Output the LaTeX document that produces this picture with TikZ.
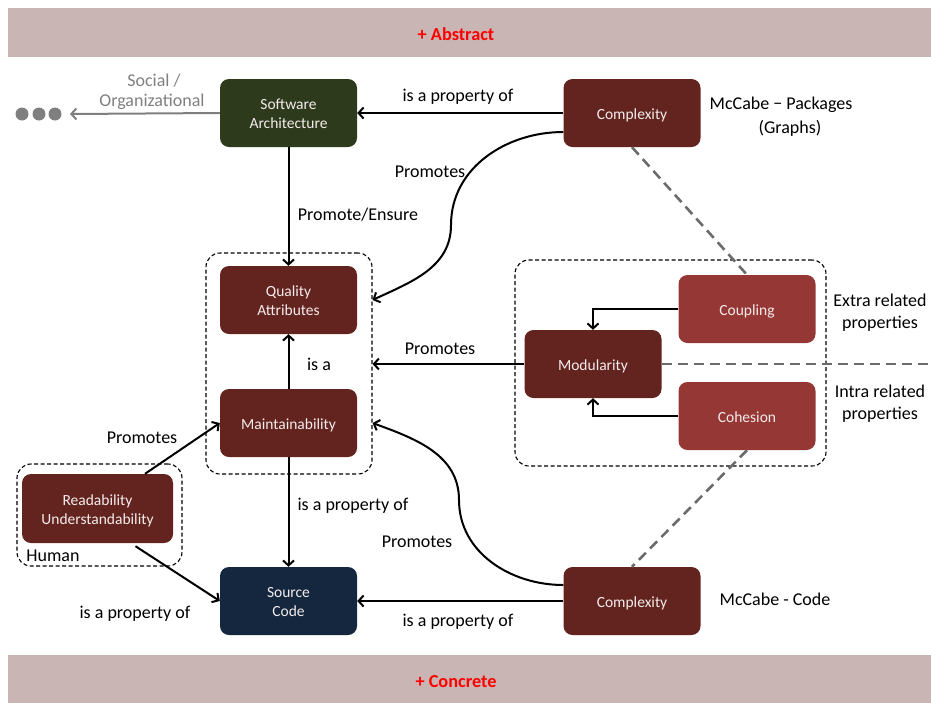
\documentclass[tikz,border=0pt]{standalone}
\usepackage{fontspec}
\setmainfont{Carlito}
\usetikzlibrary{arrows.meta}

\definecolor{bandfill}{HTML}{C9B5B3}
\definecolor{darkred}{HTML}{63241F}
\definecolor{midred}{HTML}{953735}
\definecolor{olive}{HTML}{2E3A1C}
\definecolor{navy}{HTML}{14273F}
\definecolor{boxtext}{HTML}{F4ECEC}
\definecolor{softgray}{HTML}{7F7F7F}
\definecolor{simgray}{HTML}{6B6B6B}

% box caption: centred lines, ink set a little low inside its box
\newcommand{\boxcap}[1]{\raisebox{-2.5pt}[\height][\depth]{\begin{tabular}{@{}c@{}}#1\end{tabular}}}

\begin{document}
\begin{tikzpicture}[x=1pt,y=-1pt,
  box/.style={rounded corners=9pt, minimum width=137pt, minimum height=68pt,
    text=boxtext, font=\fontsize{15.5}{19}\selectfont, align=center, inner sep=0pt},
  lbl/.style={font=\fontsize{18}{22}\selectfont, inner sep=0pt, align=center},
  link/.style={line width=2pt, -{Straight Barb[length=5pt,width=11pt,line width=2pt]}},
  grp/.style={draw=black, line width=1.1pt, rounded corners=14pt, dash pattern=on 4pt off 2.5pt,
    inner sep=0pt},
  simline/.style={draw=simgray, line width=2.6pt, dash pattern=on 10pt off 6pt},
  band/.style={fill=bandfill, inner sep=0pt, minimum width=923pt, minimum height=49pt},
  bandtext/.style={text=red, font=\fontsize{18.3}{22}\selectfont\bfseries, inner sep=0pt}
]
\useasboundingbox (0,0) rectangle (931,702);

% level bands
\node[band] (abstract) at (469.5,32.5) {};
\node[band, minimum height=48pt] (concrete) at (469.5,679) {};
\node[bandtext] (abstracttxt) at (456,34.5) {+ Abstract};
\node[bandtext] (concretetxt) at (456,682) {+ Concrete};

% group frames
\node[grp, minimum width=166pt, minimum height=221pt] (qgrp) at (289,363.5) {};
\node[grp, minimum width=165pt, minimum height=102pt] (hgrp) at (99.5,515) {};
\node[grp, minimum width=311pt, minimum height=206pt] (mgrp) at (670.5,363) {};

% main boxes
\node[box, fill=olive] (sa) at (288.5,113) {\boxcap{Software\\Architecture}};
\node[box, fill=darkred] (cxt) at (632,113) {\boxcap{Complexity}};
\node[box, fill=darkred] (qa) at (288.5,300) {\boxcap{Quality\\Attributes}};
\node[box, fill=darkred] (mt) at (288.5,423) {\boxcap{Maintainability}};
\node[box, fill=navy] (sc) at (288.5,601) {\boxcap{Source\\Code}};
\node[box, fill=darkred] (cxb) at (632,601) {\boxcap{Complexity}};
\node[box, fill=darkred, minimum width=151pt, minimum height=69pt] (rd) at (97.5,508.5) {\boxcap{Readability\\Understandability}};
\node[box, fill=darkred] (md) at (593,364) {\boxcap{Modularity}};
\node[box, fill=midred] (cp) at (747,309) {\boxcap{Coupling}};
\node[box, fill=midred] (ch) at (747,416) {\boxcap{Cohesion}};

% social / organizational continuation
\foreach \i/\x in {1/22,2/39,3/55}
  \node[circle, fill=softgray, minimum size=13pt, inner sep=0pt] (dot\i) at (\x,114) {};
\coordinate (social) at (70,114);
\draw[link, draw=softgray] (sa.west) -- (social);
\node[lbl, text=softgray] (soctxt1) at (154,81) {Social /};
\node[lbl, text=softgray] (soctxt2) at (152,102) {Organizational};

% similarity lines
\coordinate (rightedge) at (931,364);
\draw[simline] (cxt.south) -- (cp.north);
\draw[simline] (ch.south) -- (cxb.north);
\draw[simline] (md.east) -- (rightedge);

% connectors
\draw[link] (cxt.west) -- (sa.east);
\draw[link] ([yshift=-19pt]cxt.west) to[out=180,in=90] (451,225) to[out=-90,in=25] (qgrp.east |- qa.center);
\draw[link] (sa.south) -- (qa.north);
\draw[link] (mt.north) -- (qa.south);
\draw[link] (md.west) -- (qgrp.east |- md.west);
\draw[link] (cp.west) -| (md.north);
\draw[link] (ch.west) -| (md.south);
\draw[link] (mt.south) -- (sc.north);
\draw[link] ([yshift=16pt]cxb.west) to[out=180,in=-90] (459,500) to[out=90,in=-20] (qgrp.east |- mt.east);
\draw[link] (cxb.west) -- (sc.east);
\draw[link] ([xshift=47.5pt]rd.north) -- (mt.west);
\draw[link] ([xshift=38pt,yshift=-3pt]rd.south) -- (sc.west);

% connector labels
\node[lbl] (l1) at (458,97) {is a property of};
\node[lbl] (l2) at (430,172) {Promotes};
\node[lbl] (l3) at (358,215) {Promote/Ensure};
\node[lbl] (l4) at (319,364) {is a};
\node[lbl] (l5) at (440,349) {Promotes};
\node[lbl] (l6) at (353,506) {is a property of};
\node[lbl] (l7) at (417,542) {Promotes};
\node[lbl] (l8) at (458,622) {is a property of};
\node[lbl] (l9) at (142,438) {Promotes};
\node[lbl] (l10) at (135,614) {is a property of};
\node[lbl] (human) at (53,556) {Human};

% side notes
\node[lbl] (mcp1) at (781,105) {McCabe \symbol{"2212} Packages};
\node[lbl] (mcp2) at (790,128) {(Graphs)};
\node[lbl] (mcc) at (775,599) {McCabe - Code};
\node[lbl] (extra) at (880,313) {Extra related\\properties};
\node[lbl] (intra) at (880,404) {Intra related\\properties};
\end{tikzpicture}
\end{document}
